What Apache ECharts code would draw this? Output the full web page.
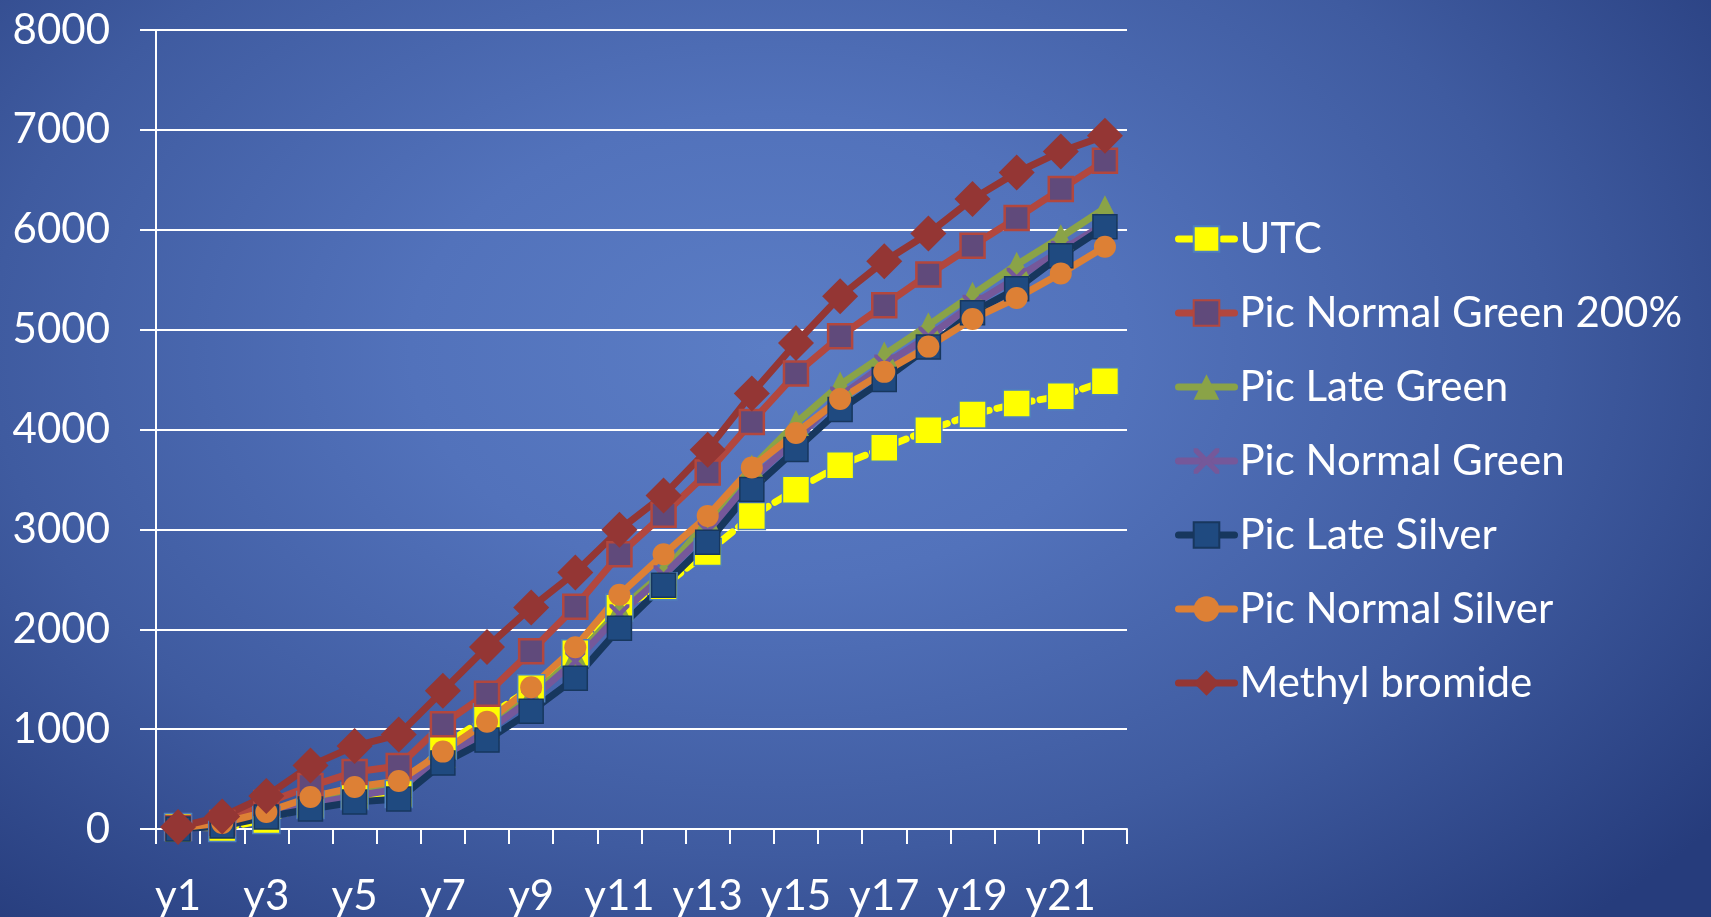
<!DOCTYPE html>
<html>
<head>
<meta charset="utf-8">
<script src="https://cdn.jsdelivr.net/npm/echarts@6/dist/echarts.min.js"></script>
<style>
  html, body { margin: 0; padding: 0; }
  #drew {
    width: 1711px; height: 917px;
    background: radial-gradient(ellipse 70% 85% at 45% 38%, #5b7dc5 0%, #5272bb 30%, #3f5ba0 65%, #263c7c 100%);
  }
</style>
</head>
<body>
<div id="drew"></div>
<script>
   var years = ['y1','y2','y3','y4','y5','y6','y7','y8','y9','y10','y11','y12','y13','y14','y15','y16','y17','y18','y19','y20','y21','y22'];
   var utc = [20, 10, 90, 240, 330, 350, 830, 1120, 1410, 1760, 2215, 2430, 2773, 3133, 3397, 3643, 3817, 3993, 4150, 4260, 4333, 4483];
   var normalGreen200 = [10, 60, 260, 430, 570, 630, 1050, 1355, 1780, 2225, 2750, 3147, 3570, 4076, 4560, 4933, 5245, 5552, 5840, 6117, 6407, 6690];
   var lateGreen = [0, 40, 150, 270, 380, 440, 740, 1020, 1330, 1720, 2190, 2570, 3080, 3620, 4065, 4450, 4750, 5045, 5350, 5650, 5925, 6215];
   var normalGreen = [0, 30, 140, 250, 330, 400, 720, 980, 1300, 1680, 2150, 2540, 2980, 3500, 3900, 4330, 4650, 4930, 5250, 5520, 5790, 6060];
   var lateSilver = [0, 30, 120, 200, 270, 300, 660, 890, 1180, 1510, 2010, 2440, 2870, 3400, 3800, 4200, 4500, 4825, 5170, 5410, 5740, 6030];
   var normalSilver = [10, 60, 170, 320, 420, 480, 775, 1075, 1420, 1820, 2345, 2750, 3135, 3620, 3965, 4305, 4577, 4830, 5107, 5317, 5563, 5830];
   var methylBromide = [20, 125, 330, 635, 830, 945, 1385, 1823, 2217, 2567, 2997, 3340, 3798, 4360, 4866, 5333, 5685, 5962, 6307, 6573, 6783, 6940];

   var crossPath = 'path://M0,0 L3,0 L10,7 L17,0 L20,0 L20,3 L13,10 L20,17 L20,20 L17,20 L10,13 L3,20 L0,20 L0,17 L7,10 L0,3 Z';
   var font = 'Lato';

   function lineSeries(name, data, symbol, size, lineColor, itemStyle, dash) {
       return {
           name: name,
           type: 'line',
           data: data,
           symbol: symbol,
           symbolSize: size,
           showAllSymbol: true,
           lineStyle: { color: lineColor, width: 7, type: dash || 'solid', cap: 'round', join: 'round' },
           itemStyle: itemStyle
       };
   }

   var myChart = echarts.init(document.getElementById('drew'));
   var option = {
       backgroundColor: 'transparent',
       textStyle: { fontFamily: font },
       grid: { left: 156, right: 584, top: 30, bottom: 88 },
       legend: {
           orient: 'vertical',
           left: 1170,
           top: 212,
           itemWidth: 56,
           itemHeight: 32,
           itemGap: 30,
           lineStyle: { width: 7 },
           textStyle: { color: '#ffffff', fontSize: 42, fontFamily: font, lineHeight: 44 },
           data: ['UTC', 'Pic Normal Green 200%', 'Pic Late Green', 'Pic Normal Green', 'Pic Late Silver', 'Pic Normal Silver', 'Methyl bromide']
       },
       xAxis: {
           type: 'category',
           data: years,
           boundaryGap: true,
           axisLine: { lineStyle: { color: '#ffffff', width: 2 } },
           axisTick: { show: true, interval: 0, length: 15, lineStyle: { color: '#ffffff', width: 2 } },
           axisLabel: { interval: 1, color: '#ffffff', fontSize: 42, fontFamily: font, margin: 46 }
       },
       yAxis: {
           type: 'value',
           min: 0,
           max: 8000,
           interval: 1000,
           axisLine: { show: true, lineStyle: { color: '#ffffff', width: 2 } },
           axisTick: { show: true, length: 16, lineStyle: { color: '#ffffff', width: 2 } },
           axisLabel: { color: '#ffffff', fontSize: 42, fontFamily: font, margin: 46, formatter: function (v) { return String(v); } },
           splitLine: { lineStyle: { color: '#ffffff', width: 2 } }
       },
       series: [
           lineSeries('UTC', utc, 'rect', 27, '#ffff00', { color: '#ffff00', borderColor: '#4f81bd', borderWidth: 1.5 }, [14, 8]),
           lineSeries('Pic Normal Green 200%', normalGreen200, 'rect', 24, '#b2473e', { color: '#604a7b', borderColor: '#b2473e', borderWidth: 2.5 }),
           lineSeries('Pic Late Green', lateGreen, 'triangle', 26, '#8aa347', { color: '#8aa347' }),
           lineSeries('Pic Normal Green', normalGreen, crossPath, 20, '#75589a', { color: '#75589a' }),
           lineSeries('Pic Late Silver', lateSilver, 'rect', 24, '#17375e', { color: '#1f4a80', borderColor: '#17375e', borderWidth: 1.5 }),
           lineSeries('Pic Normal Silver', normalSilver, 'circle', 22, '#dd8035', { color: '#dd8035' }),
           lineSeries('Methyl bromide', methylBromide, 'diamond', 36, '#943634', { color: '#943634' })
       ]
   };
   myChart.setOption(option);
   window.addEventListener('resize', function() {
       myChart.resize();
   });
</script>
</body>
</html>
